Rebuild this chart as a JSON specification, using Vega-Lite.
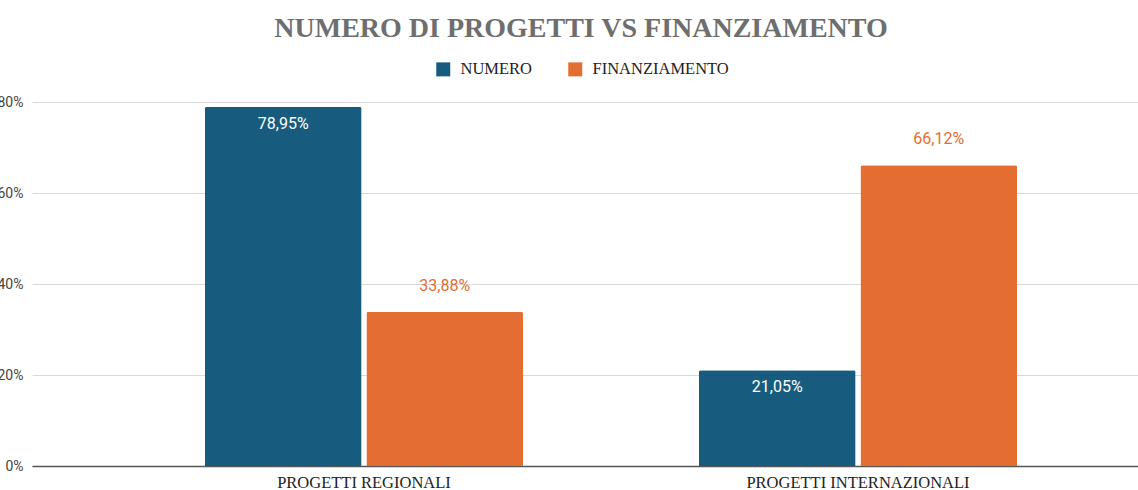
{
  "$schema": "https://vega.github.io/schema/vega-lite/v6.json",
  "width": 1158,
  "height": 364,
  "autosize": {"type": "none"},
  "padding": {"left": 32, "top": 102, "right": 0, "bottom": 24},
  "background": "white",
  "config": {
    "locale": {"number": {"decimal": ",", "thousands": ".", "grouping": [3], "currency": ["", " €"]}},
    "view": {"stroke": null}
  },
  "title": {
    "text": "NUMERO DI PROGETTI VS FINANZIAMENTO",
    "font": "Liberation Serif",
    "fontSize": 28,
    "fontWeight": "bold",
    "color": "#6e6e6e",
    "anchor": "middle",
    "frame": "group",
    "dx": -30,
    "offset": 18
  },
  "data": {
    "values": [
      {"categoria": "PROGETTI REGIONALI", "serie": "NUMERO", "valore": 0.7895},
      {"categoria": "PROGETTI REGIONALI", "serie": "FINANZIAMENTO", "valore": 0.3388},
      {"categoria": "PROGETTI INTERNAZIONALI", "serie": "NUMERO", "valore": 0.2105},
      {"categoria": "PROGETTI INTERNAZIONALI", "serie": "FINANZIAMENTO", "valore": 0.6612}
    ]
  },
  "encoding": {
    "x": {
      "field": "categoria",
      "type": "nominal",
      "sort": ["PROGETTI REGIONALI", "PROGETTI INTERNAZIONALI"],
      "scale": {"paddingInner": 0.356, "paddingOuter": 0.35},
      "axis": {
        "title": null,
        "labelAngle": 0,
        "labelFont": "Liberation Serif",
        "labelFontSize": 16.5,
        "labelLimit": 400,
        "labelColor": "#222222",
        "ticks": false,
        "domainColor": "#555555",
        "domainWidth": 1.5,
        "labelPadding": 8
      }
    },
    "xOffset": {
      "field": "serie",
      "type": "nominal",
      "sort": ["NUMERO", "FINANZIAMENTO"],
      "scale": {"paddingInner": 0.03}
    },
    "y": {
      "field": "valore",
      "type": "quantitative",
      "scale": {"domain": [0, 0.8]},
      "axis": {
        "title": null,
        "format": ".0%",
        "values": [0, 0.2, 0.4, 0.6, 0.8],
        "domain": false,
        "ticks": false,
        "labelPadding": 9,
        "gridColor": "#d9d9d9",
        "labelFont": "Roboto",
        "labelFontSize": 14,
        "labelColor": "#444444"
      }
    }
  },
  "layer": [
    {
      "mark": {"type": "bar", "cornerRadiusTopLeft": 2, "cornerRadiusTopRight": 2},
      "encoding": {
        "color": {
          "field": "serie",
          "type": "nominal",
          "scale": {"domain": ["NUMERO", "FINANZIAMENTO"], "range": ["#175c7f", "#e46e31"]},
          "legend": {
            "title": null,
            "orient": "none",
            "legendX": 403,
            "legendY": -41,
            "direction": "horizontal",
            "symbolType": "square",
            "symbolSize": 196,
            "symbolStrokeWidth": 0,
            "labelFont": "Liberation Serif",
            "labelFontSize": 16.5,
            "labelColor": "#222222",
            "labelOffset": 9,
            "columnPadding": 34
          }
        }
      }
    },
    {
      "transform": [{"filter": "datum.serie === 'NUMERO'"}],
      "mark": {"type": "text", "baseline": "top", "dy": 9, "font": "Roboto", "fontSize": 16, "color": "white"},
      "encoding": {"text": {"field": "valore", "type": "quantitative", "format": ".2%"}}
    },
    {
      "transform": [{"filter": "datum.serie === 'FINANZIAMENTO'"}],
      "mark": {"type": "text", "baseline": "alphabetic", "dy": -21, "font": "Roboto", "fontSize": 16, "color": "#e46e31"},
      "encoding": {"text": {"field": "valore", "type": "quantitative", "format": ".2%"}}
    }
  ]
}
